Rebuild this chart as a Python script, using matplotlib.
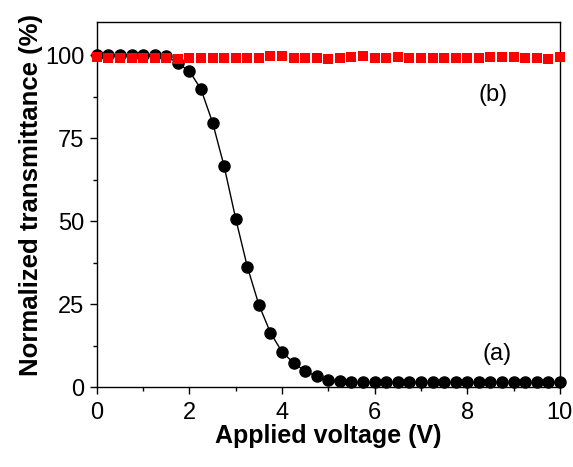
import matplotlib.pyplot as plt
from matplotlib.ticker import MultipleLocator

plt.rcParams['font.family'] = ['Liberation Sans', 'DejaVu Sans']

# Applied voltage (V), 0 to 10 in 0.25 V steps
voltage = [0.0, 0.25, 0.5, 0.75, 1.0, 1.25, 1.5, 1.75, 2.0, 2.25, 2.5, 2.75,
           3.0, 3.25, 3.5, 3.75, 4.0, 4.25, 4.5, 4.75, 5.0, 5.25, 5.5, 5.75,
           6.0, 6.25, 6.5, 6.75, 7.0, 7.25, 7.5, 7.75, 8.0, 8.25, 8.5, 8.75,
           9.0, 9.25, 9.5, 9.75, 10.0]

# (a) normalized transmittance (%)
trans_a = [100.0, 100.0, 100.0, 100.0, 100.0, 100.0, 99.8, 97.5, 95.2, 89.7, 79.7, 66.5,
           50.7, 36.3, 24.8, 16.4, 10.6, 7.3, 4.8, 3.3, 2.3, 1.7, 1.5, 1.4,
           1.4, 1.4, 1.4, 1.4, 1.4, 1.4, 1.4, 1.4, 1.4, 1.4, 1.4, 1.4,
           1.4, 1.4, 1.4, 1.4, 1.4]

# (b) normalized transmittance (%)
trans_b = [99.3, 99.0, 99.0, 99.1, 99.2, 99.2, 99.2, 98.9, 99.0, 99.0, 99.0, 99.0,
           99.0, 99.0, 99.0, 99.6, 99.8, 99.2, 99.2, 99.1, 98.8, 99.2, 99.3, 99.6,
           99.2, 99.2, 99.3, 99.1, 99.2, 99.0, 99.2, 99.1, 99.0, 99.1, 99.5, 99.4,
           99.3, 99.1, 99.2, 98.9, 99.3]

fig = plt.figure(figsize=(5.73, 4.67), dpi=100)
ax = fig.add_axes([0.169, 0.171, 0.808, 0.782])

ax.plot(voltage, trans_a, color='black', lw=1.0, marker='o', markersize=8,
        clip_on=False, zorder=3)
ax.plot(voltage, trans_b, color='#ff0000', lw=0, marker='s', markersize=7.2,
        markeredgewidth=0, clip_on=False, zorder=4)

ax.text(8.55, 88, '(b)', fontsize=17, ha='center', va='center')
ax.text(8.65, 10, '(a)', fontsize=17, ha='center', va='center')

ax.set_xlim(0, 10)
ax.set_ylim(0, 110)
ax.xaxis.set_major_locator(MultipleLocator(2))
ax.xaxis.set_minor_locator(MultipleLocator(1))
ax.yaxis.set_minor_locator(MultipleLocator(12.5))
ax.set_yticks([0, 25, 50, 75, 100])
ax.tick_params(which='major', direction='out', length=5, width=1, labelsize=17)
ax.tick_params(axis='x', which='major', pad=6)
ax.tick_params(axis='y', which='major', pad=4)
ax.tick_params(which='minor', direction='out', length=3, width=1)

ax.set_xlabel('Applied voltage (V)', fontsize=18, fontweight='bold')
ax.set_ylabel('Normalized transmittance (%)', fontsize=18.5, fontweight='bold')
ax.xaxis.set_label_coords(0.5, -0.10)
ax.yaxis.set_label_coords(-0.116, 0.525)

for s in ax.spines.values():
    s.set_linewidth(1.0)

fig.savefig('out.png', dpi=100)
